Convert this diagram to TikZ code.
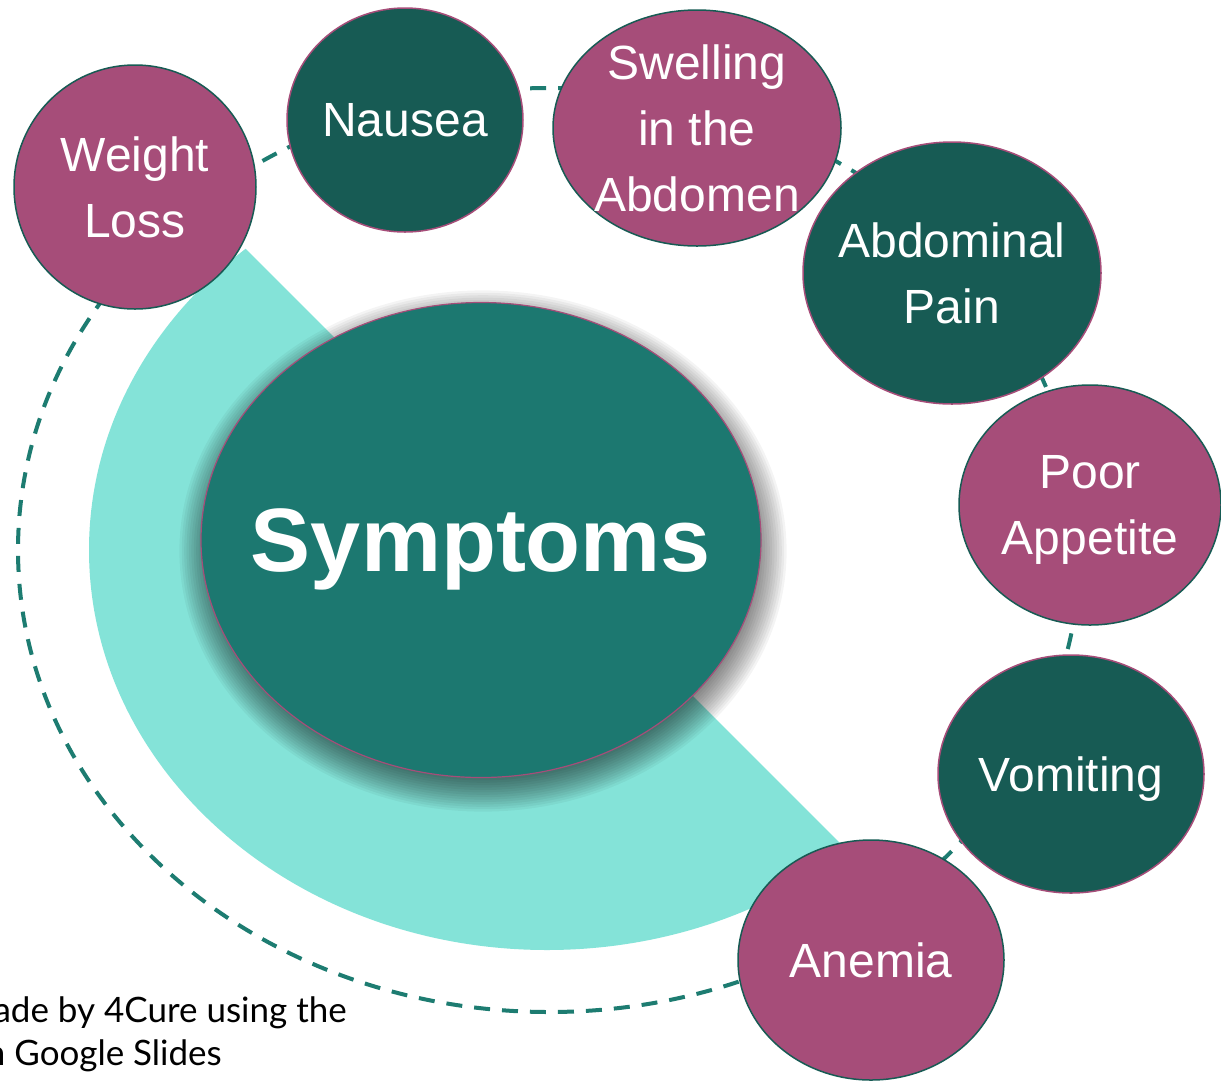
\documentclass[tikz,border=0pt]{standalone}
\usepackage{fontspec}
\setmainfont{Liberation Sans}
\newfontfamily\notefont{Lato}
\usetikzlibrary{shapes.geometric}
\definecolor{pinkc}{HTML}{A64D79}
\definecolor{darkteal}{HTML}{175B54}
\definecolor{midteal}{HTML}{1C7870}
\definecolor{aqua}{HTML}{84E3D8}
\definecolor{dashc}{HTML}{1D7C71}
\tikzset{
  bubble/.style={ellipse, line width=1.5pt, inner sep=0pt},
  pinkbub/.style={bubble, fill=pinkc, draw=darkteal},
  tealbub/.style={bubble, fill=darkteal, draw=pinkc},
  lbl/.style={text=white, font=\fontsize{48}{66}\selectfont, align=center, inner sep=0pt, text depth=0pt},
  ring/.style={dashc, line width=4pt, dash pattern=on 16pt off 12pt},
  shadowlayer/.style={fill=black, opacity=0.045},
  note/.style={font=\notefont\fontsize{35}{43}\selectfont, text=black, inner sep=0pt}
}
\begin{document}
\begin{tikzpicture}[x=1pt,y=-1pt]
\useasboundingbox (0,0) rectangle (1221,1080);
\clip (0,0) rectangle (1221,1080);
\fill[white] (0,0) rectangle (1221,1080);
% light sector
\begin{scope}
  \clip (-400,-397) -- (1500,1503) -- (-400,1503) -- cycle;
  \fill[aqua] (547,550) ellipse [x radius=458, y radius=400];
\end{scope}
% dashed ring
\coordinate (ringc) at (549,550);
\draw[ring] (ringc) ellipse [x radius=531, y radius=462];
% soft shadow of the centre
\coordinate (shc) at (483,551);
\foreach \k in {1,...,14}{
  \fill[shadowlayer] (shc) ellipse [x radius={270+2.4*\k}, y radius={227+2.4*\k}];
}
% centre
\node[ellipse, fill=midteal, draw=pinkc, line width=1.2pt, inner sep=0pt,
      minimum width=560pt, minimum height=475pt] (sym) at (481,540) {};
\node[text=white, inner sep=0pt, text depth=0pt, font=\bfseries\fontsize{90}{100}\selectfont] (symt) at (sym.center) {Symptoms};
% bubbles
\node[pinkbub, minimum width=242pt, minimum height=244pt] (wl) at (135,187) {};
\node[lbl] (wlt) at (wl.center) {Weight\\Loss};
\node[tealbub, minimum width=236pt, minimum height=224pt] (na) at (405,120) {};
\node[lbl] (nat) at (na.center) {Nausea};
\node[pinkbub, minimum width=288pt, minimum height=236pt] (sw) at (697,128) {};
\node[lbl] (swt) at (sw.center) {Swelling\\in the\\Abdomen};
\node[tealbub, minimum width=298pt, minimum height=262pt] (ap) at (952,273) {};
\node[lbl] (apt) at (ap.center) {Abdominal\\Pain};
\node[pinkbub, minimum width=262pt, minimum height=240pt] (pa) at (1090,505) {};
\node[lbl] (pat) at (pa.center) {Poor\\Appetite};
\node[tealbub, minimum width=266pt, minimum height=238pt] (vo) at (1071,774) {};
\node[lbl] (vot) at (vo.center) {Vomiting};
\node[pinkbub, minimum width=266pt, minimum height=240pt] (an) at (871,960) {};
\node[lbl] (ant) at (an.center) {Anemia};
% note
\node[note, anchor=base east] (n1) at (347,1022) {Made by 4Cure using the};
\node[note, anchor=base east] (n2) at (222,1065) {in Google Slides};
\end{tikzpicture}
\end{document}
